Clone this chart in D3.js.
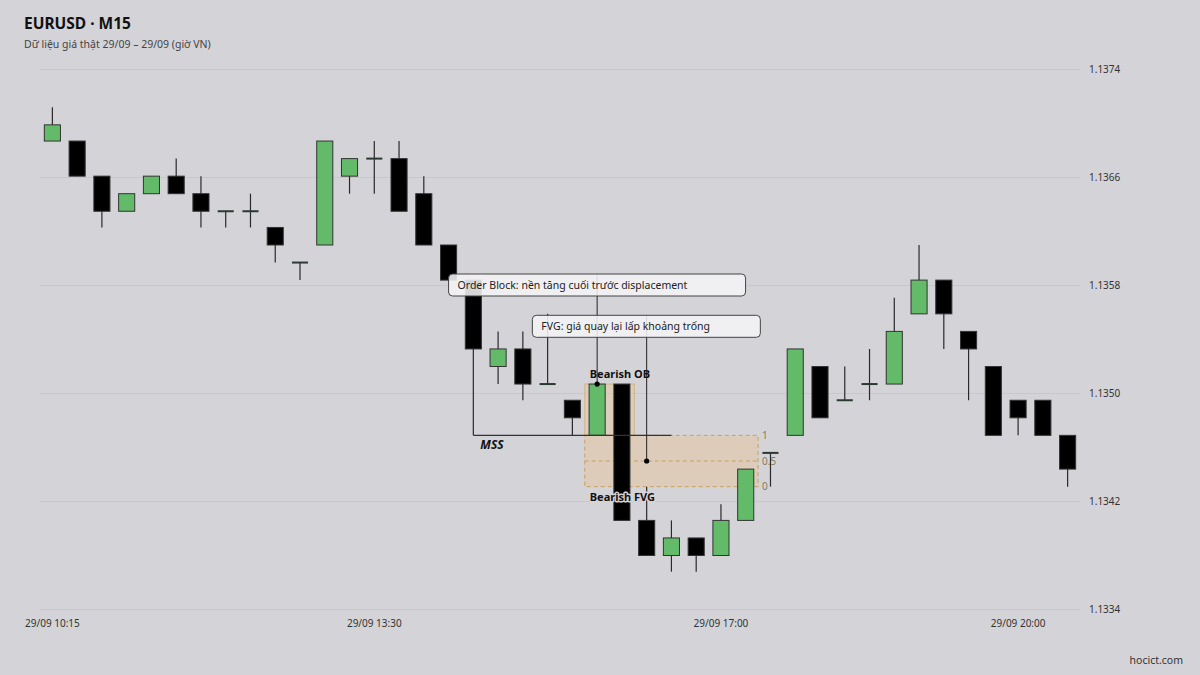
<!DOCTYPE html>
<html><head><meta charset="utf-8">
<script src="https://cdn.jsdelivr.net/npm/d3@7/dist/d3.min.js"></script>
<style>
html,body{margin:0;padding:0;background:#d4d3d8;}
svg{display:block;font-family:"Noto Sans",sans-serif;}
</style></head>
<body>
<svg id="c" width="1200" height="675"></svg>
<script>
const times = ["10:15","10:30","10:45","11:00","11:15","11:30","11:45","12:00","12:15","12:30","12:45","13:00","13:15","13:30","13:45","14:00","14:15","14:30","14:45","15:00","15:15","15:30","15:45","16:00","16:15","16:30","16:45","17:00","17:15","17:30","17:45","18:00","18:15","18:30","18:45","19:00","19:15","19:30","19:45","20:00","20:15","20:30"];
const openP  = [1.13687,1.13687,1.13661,1.13635,1.13648,1.13661,1.13648,1.13635,1.13635,1.13623,1.13597,1.13610,1.13661,1.13674,1.13674,1.13648,1.13610,1.13584,1.13520,1.13533,1.13507,1.13495,1.13469,1.13507,1.13406,1.13380,1.13393,1.13380,1.13406,1.13456,1.13469,1.13520,1.13495,1.13507,1.13507,1.13559,1.13584,1.13546,1.13520,1.13495,1.13495,1.13469];
const highP  = [1.13712,1.13687,1.13661,1.13648,1.13661,1.13674,1.13661,1.13635,1.13648,1.13623,1.13597,1.13687,1.13674,1.13687,1.13687,1.13661,1.13610,1.13584,1.13546,1.13546,1.13559,1.13495,1.13507,1.13507,1.13431,1.13406,1.13393,1.13418,1.13444,1.13456,1.13533,1.13520,1.13520,1.13533,1.13571,1.13610,1.13584,1.13546,1.13520,1.13495,1.13495,1.13469];
const lowP   = [1.13687,1.13661,1.13623,1.13635,1.13648,1.13648,1.13623,1.13623,1.13623,1.13597,1.13584,1.13610,1.13648,1.13648,1.13635,1.13610,1.13584,1.13469,1.13507,1.13495,1.13507,1.13469,1.13469,1.13406,1.13380,1.13368,1.13368,1.13380,1.13406,1.13431,1.13469,1.13482,1.13495,1.13495,1.13507,1.13559,1.13533,1.13495,1.13469,1.13469,1.13469,1.13431];
const closeP = [1.13699,1.13661,1.13635,1.13648,1.13661,1.13648,1.13635,1.13635,1.13635,1.13610,1.13597,1.13687,1.13674,1.13674,1.13635,1.13610,1.13584,1.13533,1.13533,1.13507,1.13507,1.13482,1.13507,1.13406,1.13380,1.13393,1.13380,1.13406,1.13444,1.13456,1.13533,1.13482,1.13495,1.13507,1.13546,1.13584,1.13559,1.13533,1.13469,1.13482,1.13469,1.13444];
const yTicks = [1.1334,1.1342,1.1350,1.1358,1.1366,1.1374];
const xTickTimes = ["10:15","13:30","17:00","20:00"];
const xTickLabels = ["29/09 10:15","29/09 13:30","29/09 17:00","29/09 20:00"];
const titleText = "EURUSD · M15";
const subtitleText = "Dữ liệu giá thật 29/09 – 29/09 (giờ VN)";
const credit = "hocict.com";
// annotation anchors (indices into the series)
const obIndex = 22, obEndIndex = 23;
const fvgStart = 22, fvgEnd = 28, fvgTopIdx = 22, fvgBottomIdx = 24;
const mssIndex = 17, mssEndIndex = 25;
const fvgLevels = [1, 0.5, 0];
const callouts = [
  {text:"Order Block: nền tăng cuối trước displacement", anchorIdx:22, target:"ob", boxLeftIdx:16, boxLeftDx:0, boxTop:274, boxW:297},
  {text:"FVG: giá quay lại lấp khoảng trống", anchorIdx:24, target:"fvg", boxLeftIdx:19, boxLeftDx:9.5, boxTop:315.3, boxW:228}
];

const svg = d3.select("#c");
const W = 1200, H = 675;
const L = 40, R = 1080;
const x = d3.scaleBand().domain(times).range([L, R]).paddingInner(0.35).paddingOuter(0.175);
const y = d3.scaleLinear().domain([1.1334, 1.1374]).range([609.5, 69.5]);
const bw = x.bandwidth();
const half = (x.step()-bw)/2;
const cx = i => x(times[i]) + bw/2;
const slotL = i => x(times[i]) - half;
const slotR = i => x(times[i]) + bw + half;

svg.append("rect").attr("width",W).attr("height",H).attr("fill","#d4d3d8");

// grid
svg.append("g").selectAll("line").data(yTicks).join("line")
  .attr("x1",L).attr("x2",R).attr("y1",d=>y(d)).attr("y2",d=>y(d))
  .attr("stroke","#c8c7cc").attr("stroke-width",1);
// y axis labels
const yAxis = d3.axisRight(y).tickValues(yTicks).tickFormat(d3.format(".4f")).tickSize(0).tickPadding(0);
const ga = svg.append("g").attr("transform",`translate(${R+9},0)`).call(yAxis);
ga.select(".domain").remove();
ga.selectAll("text").attr("font-size",10).attr("fill","#333").attr("font-family","Noto Sans, sans-serif");
// x axis labels
const xAxis = d3.axisBottom(x).tickValues(xTickTimes).tickFormat(t=>xTickLabels[xTickTimes.indexOf(t)]).tickSize(0).tickPadding(0);
const gx = svg.append("g").attr("transform",`translate(0,620)`).call(xAxis);
gx.select(".domain").remove();
gx.selectAll("text").attr("font-size",10).attr("fill","#333").attr("font-family","Noto Sans, sans-serif");

// FVG box
const fvgTop = y(lowP[fvgTopIdx]), fvgBot = y(highP[fvgBottomIdx]);
const fx0 = slotL(fvgStart), fx1 = slotR(fvgEnd);
svg.append("rect").attr("x",fx0).attr("y",fvgTop).attr("width",fx1-fx0).attr("height",fvgBot-fvgTop)
  .attr("fill","rgba(236,196,140,0.4)").attr("stroke","rgba(196,150,70,0.8)").attr("stroke-dasharray","4,3").attr("stroke-width",1);
const fvgY = lv => fvgBot + (fvgTop-fvgBot)*lv;
svg.append("line").attr("x1",fx0).attr("x2",fx1).attr("y1",fvgY(0.5)).attr("y2",fvgY(0.5))
  .attr("stroke","rgba(196,150,70,0.8)").attr("stroke-dasharray","4,3");
svg.append("g").selectAll("text").data(fvgLevels).join("text")
  .attr("x",fx1+4).attr("y",d=>fvgY(d)).attr("dy","0.35em").attr("font-size",10).attr("fill","#8a7a55")
  .text(d=>d);

// OB box
const obTop = y(highP[obIndex]), obBot = y(lowP[obIndex]);
const ox0 = slotL(obIndex), ox1 = slotR(obEndIndex);
svg.append("rect").attr("x",ox0).attr("y",obTop).attr("width",ox1-ox0).attr("height",obBot-obTop)
  .attr("fill","rgba(236,196,140,0.35)").attr("stroke","rgba(210,170,100,0.7)").attr("stroke-width",1);

// candles
const idx = d3.range(times.length);
const g = svg.append("g");
g.selectAll("line.w").data(idx).join("line").attr("class","w")
  .attr("x1",cx).attr("x2",cx).attr("y1",i=>y(highP[i])).attr("y2",i=>y(lowP[i]))
  .attr("stroke","#2a2a2a").attr("stroke-width",1.2);
g.selectAll("rect.b").data(idx.filter(i=>openP[i]!==closeP[i])).join("rect").attr("class","b")
  .attr("x",i=>x(times[i])).attr("width",bw)
  .attr("y",i=>y(Math.max(openP[i],closeP[i])))
  .attr("height",i=>Math.abs(y(openP[i])-y(closeP[i])))
  .attr("fill",i=>closeP[i]>openP[i]?"#63bb6a":"#000")
  .attr("stroke","#333").attr("stroke-width",1);
g.selectAll("line.d").data(idx.filter(i=>openP[i]===closeP[i])).join("line").attr("class","d")
  .attr("x1",i=>x(times[i])).attr("x2",i=>x(times[i])+bw)
  .attr("y1",i=>y(openP[i])).attr("y2",i=>y(openP[i]))
  .attr("stroke","#2b3a30").attr("stroke-width",2);

// MSS line
const mssY = y(lowP[mssIndex]);
svg.append("line").attr("x1",cx(mssIndex)).attr("x2",cx(mssEndIndex)).attr("y1",mssY).attr("y2",mssY)
  .attr("stroke","#333").attr("stroke-width",1.4);
svg.append("text").attr("x",cx(mssIndex)+7).attr("y",mssY+14).attr("font-size",12).attr("font-weight","bold")
  .attr("font-style","italic").attr("fill","#111").text("MSS");

// labels with halo
function halo(sel){ sel.attr("stroke","#d4d3d8").attr("stroke-width",3).attr("paint-order","stroke").attr("stroke-linejoin","round"); }
svg.append("text").attr("x",ox0+5).attr("y",obTop-6).attr("font-size",11).attr("font-weight","bold").attr("fill","#111")
  .call(halo).text("Bearish OB");
svg.append("text").attr("x",fx0+5).attr("y",fvgBot+14).attr("font-size",11).attr("font-weight","bold").attr("fill","#111")
  .call(halo).text("Bearish FVG");

// callouts
callouts.forEach(c=>{
  const ax = cx(c.anchorIdx);
  const ay = c.target==="ob" ? obTop : fvgY(0.5);
  const bx = cx(c.boxLeftIdx) + c.boxLeftDx;
  const bh = 22;
  svg.append("line").attr("x1",ax).attr("x2",ax).attr("y1",c.boxTop).attr("y2",ay)
    .attr("stroke","#222").attr("stroke-width",1);
  svg.append("circle").attr("cx",ax).attr("cy",ay).attr("r",2.6).attr("fill","#000");
  svg.append("rect").attr("x",bx).attr("y",c.boxTop).attr("width",c.boxW).attr("height",bh).attr("rx",4)
    .attr("fill","rgba(244,244,246,0.88)").attr("stroke","#444").attr("stroke-width",1);
  svg.append("text").attr("x",bx+9).attr("y",c.boxTop+bh/2).attr("dy","0.35em").attr("font-size",10.5).attr("fill","#222").text(c.text);
});

// title
svg.append("text").attr("x",24).attr("y",29).attr("font-size",15.5).attr("font-weight","bold").attr("fill","#111").text(titleText);
svg.append("text").attr("x",24).attr("y",48).attr("font-size",10.5).attr("fill","#444").text(subtitleText);
svg.append("text").attr("x",1183).attr("y",664).attr("text-anchor","end").attr("font-size",10.5).attr("fill","#333").text(credit);
</script>
</body></html>
